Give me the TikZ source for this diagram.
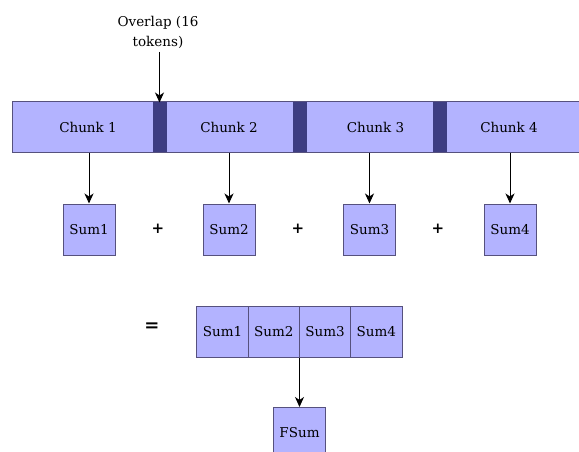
\documentclass[tikz,border=0pt]{standalone}
\usepackage{fontspec}
\setmainfont{DejaVu Serif}
\usetikzlibrary{arrows.meta}
\definecolor{boxfill}{HTML}{B3B3FF}
\definecolor{boxline}{HTML}{56517E}
\definecolor{ovl}{HTML}{3D3D82}
\tikzset{
  chunkbox/.style={draw=boxline, fill=boxfill, line width=1pt, minimum width=153pt, minimum height=50pt, inner sep=0pt},
  ovlbox/.style={draw=ovl, fill=ovl, line width=0pt, minimum width=13pt, minimum height=49pt, inner sep=0pt},
  sumbox/.style={draw=boxline, fill=boxfill, line width=1pt, minimum width=52pt, minimum height=51pt, inner sep=0pt, font=\fontsize{13.5}{15}\selectfont},
  cellbox/.style={draw=boxline, fill=boxfill, line width=1pt, minimum width=51.25pt, minimum height=51pt, inner sep=0pt, font=\fontsize{13.5}{15}\selectfont},
  chunktxt/.style={font=\fontsize{13.5}{15}\selectfont, inner sep=0pt},
  conn/.style={draw=black, line width=1pt, -{Stealth[length=10pt,width=9pt,inset=3pt]}},
  opsign/.style={font=\fontsize{15}{15}\selectfont\bfseries, inner sep=0pt},
  eqsign/.style={font=\fontsize{18}{18}\selectfont\bfseries, inner sep=0pt},
  lbl/.style={font=\fontsize{13.5}{20}\selectfont, align=center, inner sep=0pt}
}
\begin{document}
\begin{tikzpicture}[x=1pt,y=-1pt]
\path[use as bounding box, clip] (0,0) rectangle (579,452);
% chunks
\node[chunkbox] (c1) at (88.5,127) {};
\node[chunkbox] (c2) at (229.5,127) {};
\node[chunkbox] (c3) at (369.5,127) {};
\node[chunkbox] (c4) at (509.5,127) {};
\node[ovlbox] (o1) at (159.5,127) {};
\node[ovlbox] (o2) at (299.5,127) {};
\node[ovlbox] (o3) at (439.5,127) {};
\node[chunktxt] (t1) at (88,127) {Chunk 1};
\node[chunktxt] (t2) at (229,127) {Chunk 2};
\node[chunktxt] (t3) at (375.5,127) {Chunk 3};
\node[chunktxt] (t4) at (509,127) {Chunk 4};
% overlap label
\node[lbl] (ol) at (158,32) {Overlap (16\\tokens)};
\coordinate (olb) at (159.5,52);
\draw[conn] (olb) -- (o1.north);
% sums
\node[sumbox] (s1) at (89,229.5) {Sum1};
\node[sumbox] (s2) at (229,229.5) {Sum2};
\node[sumbox] (s3) at (369.5,229.5) {Sum3};
\node[sumbox] (s4) at (510,229.5) {Sum4};
\node[opsign] (p1) at (158,229) {+};
\node[opsign] (p2) at (298,229) {+};
\node[opsign] (p3) at (438,229) {+};
\draw[conn] (s1.north |- c1.south) -- (s1.north);
\draw[conn] (s2.north |- c2.south) -- (s2.north);
\draw[conn] (s3.north |- c3.south) -- (s3.north);
\draw[conn] (s4.north |- c4.south) -- (s4.north);
% combined
\node[eqsign] (eq) at (152,327) {=};
\node[cellbox] (k1) at (222.6,331.5) {Sum1};
\node[cellbox] (k2) at (273.9,331.5) {Sum2};
\node[cellbox] (k3) at (325.1,331.5) {Sum3};
\node[cellbox] (k4) at (376.4,331.5) {Sum4};
\node[sumbox, anchor=north] (fs) at (299.5,407) {};
\node[font=\fontsize{13.5}{15}\selectfont] (fst) at (299.5,432.5) {FSum};
\draw[conn] (fs.north |- k2.south east) -- (fs.north);
\end{tikzpicture}
\end{document}
